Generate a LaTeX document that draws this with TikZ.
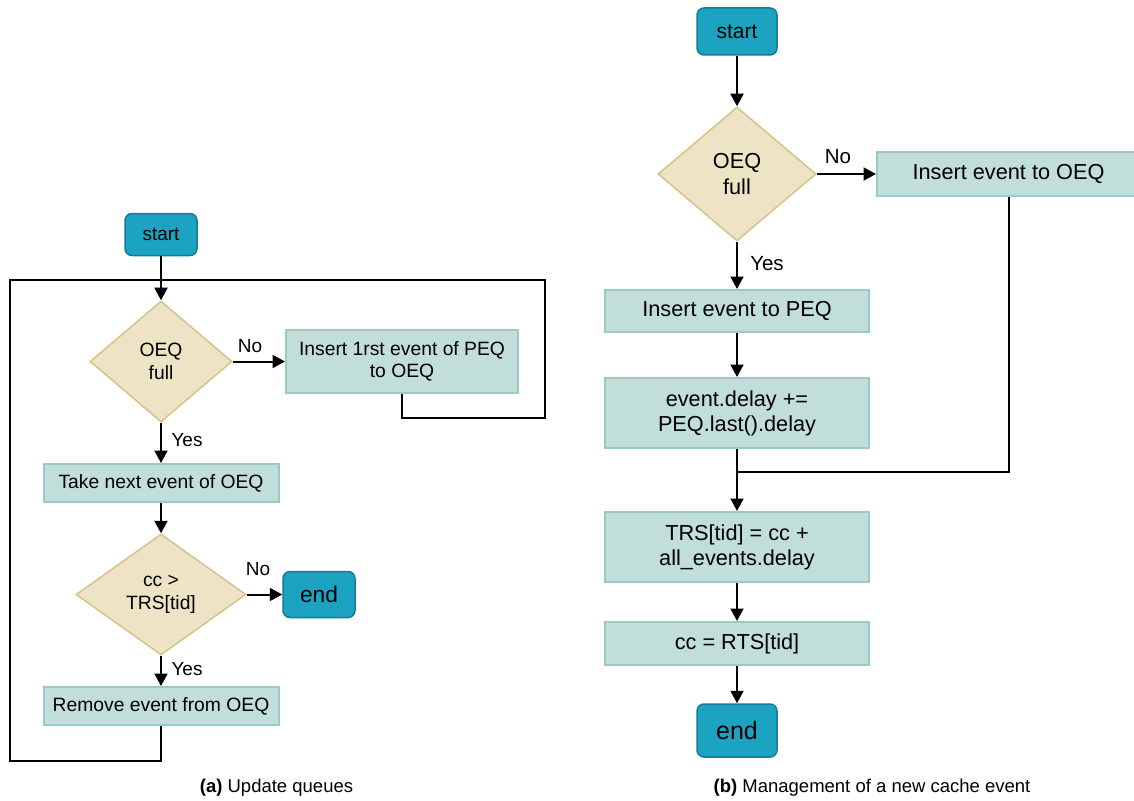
\documentclass[tikz,border=0pt]{standalone}
\usepackage{fontspec}
\setmainfont{Liberation Sans}
\usetikzlibrary{arrows.meta,shapes.geometric}
\definecolor{procfill}{HTML}{C2DEDB}
\definecolor{procline}{HTML}{9BCAC4}
\definecolor{decfill}{HTML}{EDE4C6}
\definecolor{decline}{HTML}{D6C38A}
\definecolor{termfill}{HTML}{1BA3C1}
\definecolor{termline}{HTML}{137C93}
\newcommand{\fs}[1]{\fontsize{#1}{1.15\dimexpr#1pt\relax}\selectfont}
\begin{document}
\begin{tikzpicture}[x=1pt,y=-1pt,
  proc/.style={draw=procline,fill=procfill,line width=2pt,inner sep=0pt,align=center},
  dec/.style={diamond,draw=decline,fill=decfill,line width=1.5pt,inner sep=0pt,align=center},
  term/.style={draw=termline,fill=termfill,line width=1.5pt,rounded corners=7pt,inner sep=0pt},
  lbl/.style={inner sep=0pt},
  flow/.style={line width=2pt,draw=black},
  arr/.style={flow,-{Triangle[length=12.5pt,width=13pt]}}]
\useasboundingbox (0,0) rectangle (1134,800);

% ---------- (a) Update queues ----------
\node[term,minimum width=72pt,minimum height=42pt,font=\fs{19}] (sA) at (161,234.5) {start};
\node[dec,minimum width=142pt,minimum height=121pt,aspect=1.17,font=\fs{19.3}] (dA) at (161,361.5) {OEQ\\[1pt]full};
\node[proc,minimum width=232pt,minimum height=63pt,font=\fs{19.3}] (iA) at (402,361.5) {Insert 1rst event of PEQ\\to OEQ};
\node[proc,minimum width=235pt,minimum height=38pt,font=\fs{19.3}] (tA) at (161,483) {Take next event of OEQ};
\node[dec,minimum width=170pt,minimum height=121pt,aspect=1.4,font=\fs{19.3}] (cA) at (161,594.5) {cc >\\[1pt]TRS[tid]};
\node[term,minimum width=72pt,minimum height=46pt,font=\fs{22.7}] (eA) at (319,594.5) {end};
\node[proc,minimum width=235pt,minimum height=38pt,font=\fs{19.3}] (rA) at (161,706) {Remove event from OEQ};
\coordinate (jA) at (161,280);

\node[lbl,font=\fs{19}] (noA) at (250,346) {No};
\node[lbl,font=\fs{19}] (yesA) at (187,440) {Yes};
\node[lbl,font=\fs{19}] (noC) at (258,569) {No};
\node[lbl,font=\fs{19}] (yesC) at (187,669) {Yes};

\draw[arr] (sA) -- (dA);
\draw[arr] (dA) -- (iA);
\draw[flow] (iA.south) -- ++(0,24) -| (545,280) -- (jA);
\draw[arr] (dA) -- (tA);
\draw[arr] (tA) -- (cA);
\draw[arr] (cA) -- (eA);
\draw[arr] (cA) -- (rA);
\draw[flow] (rA.south) -- ++(0,35) -| (10,280) -- (jA);

\node[font=\fs{18.5},inner sep=0pt] (capA) at (276.5,788) {\textbf{(a)} Update queues};

% ---------- (b) Management of a new cache event ----------
\node[term,minimum width=80pt,minimum height=47pt,font=\fs{21}] (sB) at (737,31.5) {start};
\node[dec,minimum width=158pt,minimum height=134pt,aspect=1.18,font=\fs{21.7}] (dB) at (737,174) {OEQ\\[1pt]full};
\node[proc,minimum width=263pt,minimum height=44pt,font=\fs{21.7}] (oB) at (1008.5,174) {Insert event to OEQ};
\node[proc,minimum width=264pt,minimum height=42pt,font=\fs{21.7}] (pB) at (737,311) {Insert event to PEQ};
\node[proc,minimum width=264pt,minimum height=70pt,font=\fs{21.7}] (lB) at (737,413) {event.delay +=\\PEQ.last().delay};
\node[proc,minimum width=264pt,minimum height=70pt,font=\fs{21.7}] (tB) at (737,547) {TRS[tid] = cc +\\all\_events.delay};
\node[proc,minimum width=264pt,minimum height=43pt,font=\fs{21.7}] (cB) at (737,643.5) {cc = RTS[tid]};
\node[term,minimum width=80pt,minimum height=53pt,font=\fs{25}] (eB) at (737,730.5) {end};
\coordinate (mB) at (737,472);

\node[lbl,font=\fs{20.5}] (noB) at (838,157) {No};
\node[lbl,font=\fs{20.5}] (yesB) at (767,264) {Yes};

\draw[arr] (sB) -- (dB);
\draw[arr] (dB) -- (oB);
\draw[arr] (dB) -- (pB);
\draw[arr] (pB) -- (lB);
\draw[flow] (oB.south) |- (mB);
\draw[arr] (lB) -- (tB);
\draw[arr] (tB) -- (cB);
\draw[arr] (cB) -- (eB);

\node[font=\fs{18.5},inner sep=0pt] (capB) at (872,788) {\textbf{(b)} Management of a new cache event};
\end{tikzpicture}
\end{document}
